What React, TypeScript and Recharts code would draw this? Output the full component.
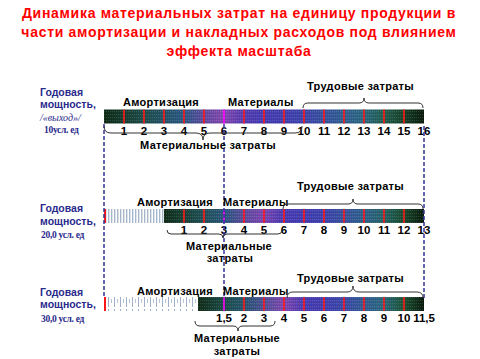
import React from 'react';
import { BarChart, Bar, XAxis, YAxis, ReferenceLine } from 'recharts';

const title = [
  'Динамика материальных затрат на единицу продукции в',
  'части амортизации и накладных расходов под влиянием',
  'эффекта масштаба',
];
const capacity = ['10усл. ед', '20,0 усл. ед', '30,0 усл. ед'];
const idleWidth = [0, 3, 4.7];
const row1Segments = [1, 1, 1, 1, 1, 1, 1, 1, 1, 1, 1, 1, 1, 1, 1, 1];
const row2Segments = [1, 1, 1, 1, 1, 1, 1, 1, 1, 1, 1, 1, 1];
const row3Segments = [1.3, 1, 1, 1, 1, 1, 1, 1, 1, 1, 1];
const row1Ticks = ['1', '2', '3', '4', '5', '6', '7', '8', '9', '10', '11', '12', '13', '14', '15', '16'];
const row2Ticks = ['1', '2', '3', '4', '5', '6', '7', '8', '9', '10', '11', '12', '13'];
const row3Ticks = ['1,5', '2', '3', '4', '5', '6', '7', '8', '9', '10', '11,5'];
const TOTAL = 16;
const SPLIT = 6;

const ROW_Y = [116.5, 216, 304];
const segments = [row1Segments, row2Segments, row3Segments];
const ticks = [row1Ticks, row2Ticks, row3Ticks];
const data = segments.map((segs, r) => {
  const row: any = { y: ROW_Y[r], row: r, s0: idleWidth[r] };
  segs.forEach((v, i) => { row[`s${i + 1}`] = v; row[`t${i + 1}`] = ticks[r][i]; });
  return row;
});
const KEYS = Array.from({ length: 16 }, (_, i) => i + 1);

const STOPS: [number, number[]][] = [
  [0, [16, 44, 24]], [0.12, [30, 78, 74]], [0.25, [44, 90, 134]], [0.33, [112, 72, 168]],
  [0.37, [138, 74, 176]], [0.45, [74, 60, 180]], [0.6, [64, 64, 176]], [0.72, [53, 90, 152]],
  [0.82, [43, 106, 128]], [0.9, [31, 90, 58]], [1, [10, 26, 12]],
];
function colorAt(f: number) {
  for (let i = 1; i < STOPS.length; i++) {
    if (f <= STOPS[i][0]) {
      const [a, ca] = STOPS[i - 1], [b, cb] = STOPS[i];
      const t = (f - a) / (b - a || 1);
      return `rgb(${ca.map((c, j) => Math.round(c + (cb[j] - c) * t)).join(',')})`;
    }
  }
  return 'rgb(10,26,12)';
}

const segShape = (k: number) => (p: any) => {
  const { x, y, width, height, payload } = p;
  if (!payload || payload[`s${k}`] == null || !(width > 0)) return <g />;
  let start = payload.s0;
  for (let i = 1; i < k; i++) start += payload[`s${i}`];
  const end = start + payload[`s${k}`];
  const span = TOTAL - payload.s0;
  const id = `seg${payload.row}-${k}`;
  return (
    <g>
      <defs>
        <linearGradient id={id} x1="0" x2="1" y1="0" y2="0">
          <stop offset="0" stopColor={colorAt((start - payload.s0) / span)} />
          <stop offset="1" stopColor={colorAt((end - payload.s0) / span)} />
        </linearGradient>
      </defs>
      <rect x={x} y={y} width={width} height={height} fill={`url(#${id})`} />
      <rect x={x} y={y} width={width} height={height} fill="url(#dither)" />
      {k > 1 && <line x1={x} x2={x} y1={y} y2={y + height} stroke={Math.abs(start - SPLIT) < 1e-6 ? '#ff00ff' : '#ff1818'} strokeWidth={1.6} />}
      <text x={x + width} y={y + height + 11} textAnchor="middle" fontFamily="Liberation Sans, Arial" fontWeight="bold" fontSize={11.5} fill="#000">{payload[`t${k}`]}</text>
    </g>
  );
};

const idleShape = (p: any) => {
  const { x, y, width, height, payload } = p;
  if (!(width > 0)) return <g />;
  return (
    <g>
      <rect x={x} y={y} width={width} height={height} fill={`url(#hatch${payload.row})`} />
      <line x1={x + 1} x2={x + 1} y1={y} y2={y + height} stroke="#ff1818" strokeWidth={2} />
    </g>
  );
};

function brace(x1: number, x2: number, y: number, d: number, tip: number) {
  // d > 0: tip up; d < 0: tip down
  const m = tip, s = Math.abs(d);
  return `M${x1} ${y} Q${x1} ${y - d} ${x1 + s} ${y - d} L${m - s} ${y - d} Q${m} ${y - d} ${m} ${y - 2 * d} Q${m} ${y - d} ${m + s} ${y - d} L${x2 - s} ${y - d} Q${x2} ${y - d} ${x2} ${y}`;
}

const BLUE = '#2a2a8c';
const sans = 'Liberation Sans, Arial, sans-serif';
const serif = 'Liberation Serif, Times New Roman, serif';

function Overlay() {
  const lbl = { fontFamily: sans, fontWeight: 'bold' as const, fontSize: 11, fill: '#000', letterSpacing: 0.3 };
  const left = { fontFamily: sans, fontWeight: 'bold' as const, fontSize: 10.5, fill: BLUE };
  const unit = { fontFamily: serif, fontWeight: 'bold' as const, fontSize: 9.5, fill: BLUE, letterSpacing: -0.3 };
  const leftY = [[96, 108, 133], [212, 225, 238], [296, 308, 322]];
  const ann = [
    { am: [123, 106], mat: [228, 106], tr: [307, 90] },
    { am: [137, 206], mat: [223, 206], tr: [297, 190] },
    { am: [137, 295], mat: [223, 295], tr: [297, 282] },
  ];
  return (
    <svg width={480} height={359} style={{ position: 'absolute', left: 0, top: 0, pointerEvents: 'none' }}>
      <defs>
        <pattern id="hatch1" width={3} height={14} patternUnits="userSpaceOnUse">
          <rect x={0} y={0} width={1} height={14} fill="#a6b6cc" />
          <rect x={1} y={0} width={1} height={14} fill="#dde4ec" />
        </pattern>
        <pattern id="hatch2" width={6} height={14} patternUnits="userSpaceOnUse">
          <rect x={0} y={1} width={1} height={12} fill="#a0b0c8" />
          <rect x={3} y={5} width={1} height={4} fill="#b8c4d4" />
        </pattern>
        <pattern id="dither" width={2} height={3} patternUnits="userSpaceOnUse">
          <rect x={0} y={0} width={1} height={1} fill="rgba(255,255,255,0.12)" />
          <rect x={1} y={2} width={1} height={1} fill="rgba(0,0,0,0.12)" />
        </pattern>
      </defs>
      {title.map((t, i) => (
        <text key={t} x={239} y={18 + i * 19} textAnchor="middle" fontFamily={sans} fontWeight="bold" fontSize={14} letterSpacing={0.7} fill="#ff0000">{t}</text>
      ))}
      {leftY.map((ys, r) => (
        <g key={r}>
          <text x={40} y={ys[0]} {...left}>Годовая</text>
          <text x={40} y={ys[1]} {...left}>мощность,</text>
          {r === 0 && <text x={40} y={121} fontFamily={serif} fontStyle="italic" fontSize={10} fill={BLUE}>/«выход»/</text>}
          <text x={r === 0 ? 44 : 41} y={ys[2]} {...unit}>{capacity[r]}</text>
        </g>
      ))}
      {ann.map((a, r) => (
        <g key={r}>
          <text x={a.am[0]} y={a.am[1]} {...lbl}>Амортизация</text>
          <text x={a.mat[0]} y={a.mat[1]} {...lbl}>Материалы</text>
          <text x={a.tr[0]} y={a.tr[1]} {...lbl}>Трудовые затраты</text>
        </g>
      ))}
      <g fill="none" stroke="#333" strokeWidth={1}>
        <path d={brace(303, 423, 108, 5, 364)} />
        <path d={brace(283, 423, 209, 5, 353)} />
        <path d={brace(287, 423, 298, 6, 353)} />
        <path d={brace(104, 302, 126, -7, 203)} />
        <path d={brace(167, 282, 230, -4, 223)} />
        <path d={brace(195, 275, 321, -5, 238)} />
      </g>
      <text x={208} y={149} textAnchor="middle" {...lbl}>Материальные затраты</text>
      <text x={229} y={250} textAnchor="middle" {...lbl}>Материальные</text>
      <text x={230} y={262} textAnchor="middle" {...lbl}>затраты</text>
      <text x={237} y={342} textAnchor="middle" {...lbl}>Материальные</text>
      <text x={237} y={355} textAnchor="middle" {...lbl}>затраты</text>
    </svg>
  );
}

export default function App() {
  const guide = { stroke: '#34349a', strokeWidth: 1.5, strokeDasharray: '4 2', ifOverflow: 'visible' as const };
  return (
    <div style={{ position: 'relative', width: 480, height: 359, background: '#fff' }}>
      <style>{'body{margin:0}'}</style>
      <BarChart width={480} height={359} data={data} layout="vertical" margin={{ top: 0, right: 0, bottom: 0, left: 0 }}>
        <XAxis type="number" domain={[-5.2, 18.8]} allowDataOverflow hide />
        <YAxis type="number" dataKey="y" domain={[0, 359]} allowDataOverflow hide />
        <ReferenceLine segment={[{ x: 0, y: 124 }, { x: 0, y: 298 }]} {...guide} />
        <ReferenceLine segment={[{ x: SPLIT, y: 124 }, { x: SPLIT, y: 298 }]} {...guide} />
        <ReferenceLine segment={[{ x: TOTAL, y: 126 }, { x: TOTAL, y: 298 }]} {...guide} />
        <Bar dataKey="s0" stackId="a" barSize={14} shape={idleShape} isAnimationActive={false} />
        {KEYS.map((k) => (
          <Bar key={k} dataKey={`s${k}`} stackId="a" barSize={14} shape={segShape(k)} isAnimationActive={false} />
        ))}
      </BarChart>
      <Overlay />
    </div>
  );
}
